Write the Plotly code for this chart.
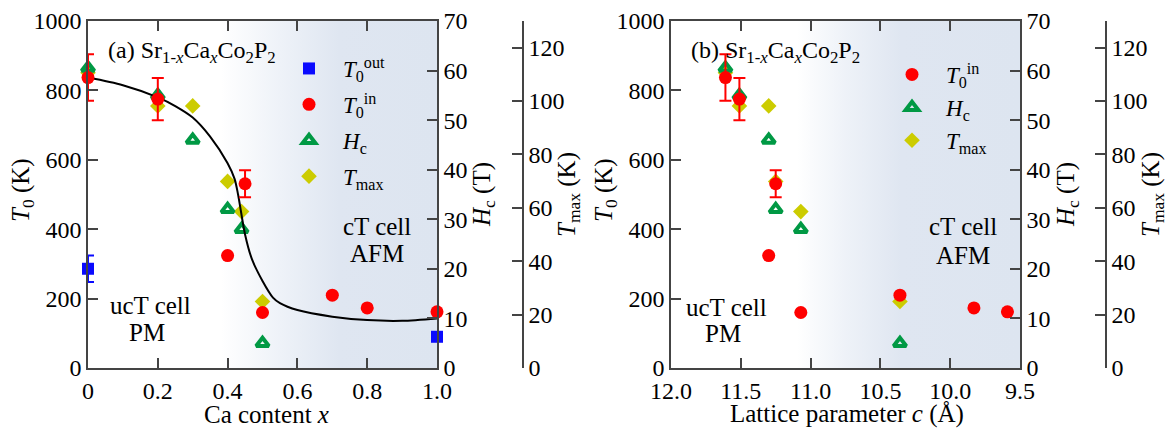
import plotly.graph_objects as go

FONT = "Liberation Serif, Times New Roman, DejaVu Serif, serif"
FS = 24
W, H = 1169, 429

# ---------------- Panel (a): Ca content x ----------------
x_out = [0.0, 1.0]
t0_out = [286, 90]
t0_out_err = [38, None]

x_in = [0.0, 0.2, 0.4, 0.45, 0.5, 0.7, 0.8, 1.0]
t0_in = [837, 775, 324, 531, 160, 210, 173, 162]
t0_in_err = [67, 61, None, 39, None, None, None, None]

x_hc = [0.0, 0.2, 0.3, 0.4, 0.44, 0.5]
hc_a = [60.5, 55.0, 46.0, 32.0, 28.0, 5.0]

x_tmax = [0.0, 0.2, 0.3, 0.4, 0.44, 0.5]
tmax_a = [110.6, 98.2, 98.2, 69.9, 58.6, 24.9]

curve_x = [0.0, 0.1, 0.2, 0.25, 0.3, 0.35, 0.4, 0.42, 0.43, 0.45, 0.47, 0.5,
           0.53, 0.55, 0.6, 0.7, 0.8, 0.9, 1.0]
curve_t0 = [837, 815, 780, 755, 722, 667, 590, 545, 500, 385, 313, 251,
            203, 187, 167, 148, 138, 136, 143]

x_ticks_a = [0, 0.2, 0.4, 0.6, 0.8, 1.0]
x_ticktext_a = ["0", "0.2", "0.4", "0.6", "0.8", "1.0"]

# ---------------- Panel (b): lattice parameter c ----------------
c_in = [11.61, 11.51, 11.30, 11.25, 11.07, 10.36, 9.83, 9.59]
t0_in_b = [837, 775, 324, 531, 160, 210, 173, 162]
t0_in_err_b = [67, 61, None, 39, None, None, None, None]

c_hc = [11.61, 11.51, 11.30, 11.25, 11.07, 10.36]
hc_b = [60.5, 55.0, 46.0, 32.0, 28.0, 5.0]

c_tmax = [11.61, 11.51, 11.30, 11.25, 11.07, 10.36]
tmax_b = [110.6, 98.2, 98.2, 69.9, 58.6, 24.9]

x_ticks_b = [12.0, 11.5, 11.0, 10.5, 10.0, 9.5]
x_ticktext_b = ["12.0", "11.5", "11.0", "10.5", "10.0", "9.5"]

# axis ranges
T0_RANGE = [0, 1000]
HC_RANGE = [0, 70]
TMAX_RANGE = [0, 130]
XA_RANGE = [0, 1.0]
XB_RANGE = [12.0, 9.5]

BLUE = "#0a0aff"
RED = "#ff0000"
GREEN = "#009944"
YELLOW = "#cccc00"
AX = "#444444"

def px_x(p):
    return p / W

def px_y(p):
    return 1 - p / H

fig = go.Figure()

grad_a = [[0, "#ffffff"], [0.38, "#ffffff"], [0.55, "#eef2f8"], [0.72, "#dfe6f1"], [1, "#dde5f0"]]
grad_b = [[0, "#ffffff"], [0.36, "#ffffff"], [0.5, "#eef2f8"], [0.66, "#dfe6f1"], [1, "#dde5f0"]]

def background(xr, yaxis, xaxis, grad):
    fig.add_trace(go.Scatter(
        x=[xr[0], xr[1], xr[1], xr[0], xr[0]],
        y=[T0_RANGE[0], T0_RANGE[0], T0_RANGE[1], T0_RANGE[1], T0_RANGE[0]],
        xaxis=xaxis, yaxis=yaxis, mode="none", fill="toself",
        fillgradient=dict(type="horizontal", colorscale=grad, start=xr[0], stop=xr[1]),
        hoverinfo="skip", showlegend=False))

background(XA_RANGE, "y", "x", grad_a)
background(XB_RANGE, "y5", "x2", grad_b)

err_style = dict(type="data", thickness=2, width=6)

def add_panel(xaxis, y_tmax, y_hc, y_t0, legend, xtm, tm, xh, h, xi, ti, tie,
              xo=None, to=None, toe=None, cx=None, cy=None):
    fig.add_trace(go.Scatter(
        x=xtm, y=tm, xaxis=xaxis, yaxis=y_tmax, mode="markers",
        marker=dict(symbol="diamond", size=12, color=YELLOW),
        name="<i>T</i><sub>max</sub>", legend=legend, legendrank=4, legendgroup=legend + "d",
        cliponaxis=False))
    fig.add_trace(go.Scatter(
        x=xh, y=h, xaxis=xaxis, yaxis=y_hc, mode="markers",
        marker=dict(symbol="triangle-up-open", size=11, color=GREEN, line=dict(width=4, color=GREEN)),
        name="<i>H</i><sub>c</sub>", legend=legend, legendrank=3, legendgroup=legend + "c",
        cliponaxis=False))
    if cx is not None:
        fig.add_trace(go.Scatter(
            x=cx, y=cy, xaxis=xaxis, yaxis=y_t0, mode="lines",
            line=dict(color="black", width=2, shape="spline", smoothing=0.8),
            showlegend=False, hoverinfo="skip", cliponaxis=False))
    fig.add_trace(go.Scatter(
        x=xi, y=ti, xaxis=xaxis, yaxis=y_t0, mode="markers",
        marker=dict(symbol="circle", size=13, color=RED),
        error_y=dict(array=tie, color=RED, **err_style),
        name="<i>T</i><sub>0</sub><sup>in</sup>", legend=legend, legendrank=2, legendgroup=legend + "b",
        cliponaxis=False))
    if xo is not None:
        fig.add_trace(go.Scatter(
            x=xo, y=to, xaxis=xaxis, yaxis=y_t0, mode="markers",
            marker=dict(symbol="square", size=12, color=BLUE),
            error_y=dict(array=toe, color=BLUE, **err_style),
            name="<i>T</i><sub>0</sub><sup>out</sup>", legend=legend, legendrank=1, legendgroup=legend + "a",
            cliponaxis=False))

add_panel("x", "y2", "y3", "y4", "legend", x_tmax, tmax_a, x_hc, hc_a, x_in, t0_in, t0_in_err,
          x_out, t0_out, t0_out_err, curve_x, curve_t0)
add_panel("x2", "y6", "y7", "y8", "legend2", c_tmax, tmax_b, c_hc, hc_b, c_in, t0_in_b, t0_in_err_b)

tickfont = dict(size=FS, family=FONT, color="black")
common = dict(showline=True, linecolor=AX, linewidth=1.5, ticks="inside", ticklen=10,
              tickcolor=AX, tickwidth=1.5, tickfont=tickfont, showgrid=False, zeroline=False,
              automargin=False)
ydom = [61 / H, 408 / H]

leg_common = dict(xanchor="left", yanchor="top", bgcolor="rgba(0,0,0,0)",
                  font=dict(size=23, family=FONT, color="black"), itemwidth=58,
                  traceorder="grouped")

layout = dict(
    template="none",
    width=W, height=H, margin=dict(l=0, r=0, t=0, b=0, autoexpand=False),
    paper_bgcolor="white", plot_bgcolor="rgba(0,0,0,0)",
    font=dict(family=FONT, size=FS, color="black"),
    showlegend=True,
    xaxis=dict(domain=[px_x(88), px_x(437)], range=XA_RANGE, anchor="y",
               tickvals=x_ticks_a, ticktext=x_ticktext_a, mirror="ticks", **common),
    yaxis=dict(domain=ydom, range=T0_RANGE, anchor="x", dtick=200, **common),
    yaxis2=dict(range=TMAX_RANGE, overlaying="y", anchor="free", position=px_x(523), side="right",
                tickvals=[0, 20, 40, 60, 80, 100, 120], **common),
    yaxis3=dict(range=HC_RANGE, overlaying="y", anchor="x", side="right", dtick=10, **common),
    yaxis4=dict(range=T0_RANGE, overlaying="y", anchor="x", visible=False),
    xaxis2=dict(domain=[px_x(671), px_x(1020)], range=XB_RANGE, anchor="y5",
                tickvals=x_ticks_b, ticktext=x_ticktext_b, mirror="ticks", **common),
    yaxis5=dict(domain=ydom, range=T0_RANGE, anchor="x2", dtick=200, **common),
    yaxis6=dict(range=TMAX_RANGE, overlaying="y5", anchor="free", position=px_x(1106), side="right",
                tickvals=[0, 20, 40, 60, 80, 100, 120], **common),
    yaxis7=dict(range=HC_RANGE, overlaying="y5", anchor="x2", side="right", dtick=10, **common),
    yaxis8=dict(range=T0_RANGE, overlaying="y5", anchor="x2", visible=False),
    legend=dict(x=px_x(275), y=px_y(47), tracegroupgap=3, **leg_common),
    legend2=dict(x=px_x(878), y=px_y(53), tracegroupgap=0, **leg_common),
)
fig.update_layout(**layout)

def ann(text, x, y, angle=0, size=FS):
    fig.add_annotation(text=text, x=px_x(x), y=px_y(y), xref="paper", yref="paper",
                       xanchor="center", yanchor="middle", showarrow=False, textangle=angle,
                       font=dict(size=size, family=FONT, color="black"))

# axis titles
ann("<i>T</i><sub>0</sub> (K)", 22, 190, -90, 25)
ann("<i>H</i><sub>c</sub> (T)", 483, 195, -90, 25)
ann("<i>T</i><sub>max</sub> (K)", 568, 195, -90, 25)
ann("Ca content <i>x</i>", 266, 414, 0, 25)
ann("<i>T</i><sub>0</sub> (K)", 605, 190, -90, 25)
ann("<i>H</i><sub>c</sub> (T)", 1067, 195, -90, 25)
ann("<i>T</i><sub>max</sub> (K)", 1152, 195, -90, 25)
ann("Lattice parameter <i>c</i> (Å)", 847, 414, 0, 25)

# panel labels and region text
comp = "Sr<sub>1-<i>x</i></sub>Ca<sub><i>x</i></sub>Co<sub>2</sub>P<sub>2</sub>"
fig.add_annotation(text="(a) " + comp, x=px_x(106), y=px_y(52), xref="paper", yref="paper",
                   xanchor="left", yanchor="middle", showarrow=False,
                   font=dict(size=FS, family=FONT, color="black"))
fig.add_annotation(text="(b) " + comp, x=px_x(689), y=px_y(52), xref="paper", yref="paper",
                   xanchor="left", yanchor="middle", showarrow=False,
                   font=dict(size=FS, family=FONT, color="black"))
ann("ucT cell", 150, 305, 0, 25)
ann("PM", 147, 332, 0, 25)
ann("cT cell", 377, 227, 0, 25)
ann("AFM", 377, 253, 0, 25)
ann("ucT cell", 726, 307, 0, 25)
ann("PM", 723, 333, 0, 25)
ann("cT cell", 963, 226, 0, 25)
ann("AFM", 963, 255, 0, 25)

fig.write_html("out.html")
